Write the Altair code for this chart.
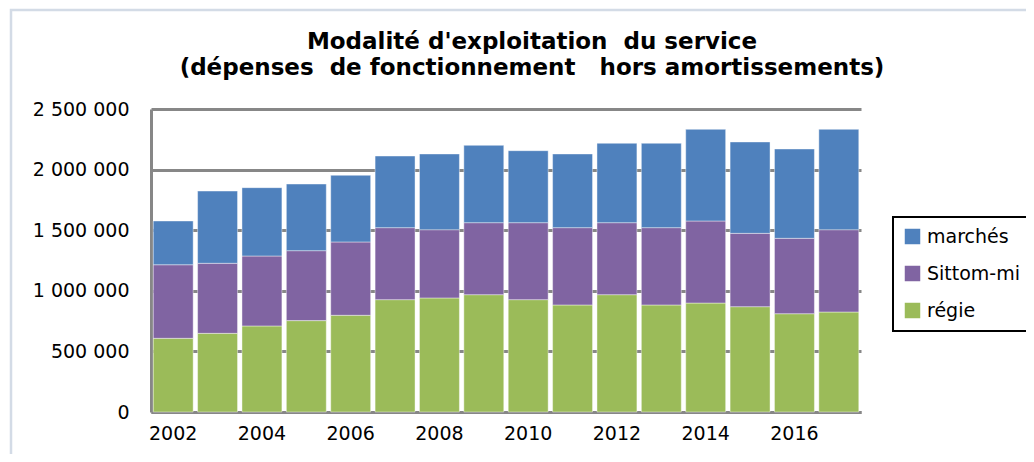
import altair as alt
import pandas as pd

years = list(range(2002, 2018))
regie = [608000, 649000, 710000, 754000, 798000, 927000, 941000, 968000,
         927000, 883000, 968000, 883000, 899000, 869000, 811000, 825000]
sittom = [607000, 578000, 577000, 577000, 605000, 594000, 563000, 594000,
          635000, 638000, 594000, 638000, 677000, 605000, 622000, 679000]
marches = [361000, 596000, 564000, 550000, 550000, 591000, 625000, 638000,
           594000, 608000, 655000, 696000, 756000, 754000, 737000, 828000]

series_names = ["marchés", "Sittom-mi", "régie"]
series_colors = ["#4F81BD", "#8064A2", "#9BBB59"]
stack_order = {"régie": 0, "Sittom-mi": 1, "marchés": 2}

title_lines = ["Modalité d'exploitation \u00a0du service",
               "(dépenses \u00a0de fonctionnement \u00a0\u00a0hors amortissements)"]

rows = []
for i, y in enumerate(years):
    for name, vals in (("régie", regie), ("Sittom-mi", sittom), ("marchés", marches)):
        rows.append({"year": y, "serie": name, "value": vals[i], "ord": stack_order[name]})
df = pd.DataFrame(rows)

FONT = "DejaVu Sans"

bars = alt.Chart(df).mark_bar(stroke="white", strokeWidth=0.6, strokeOpacity=0.7).encode(
    x=alt.X("year:O",
            scale=alt.Scale(paddingInner=0.1, paddingOuter=0.05),
            axis=alt.Axis(title=None, values=[2002, 2004, 2006, 2008, 2010, 2012, 2014, 2016],
                          labelAngle=0, ticks=False, labelPadding=12, labelFontSize=19,
                          labelFont=FONT, labelColor="black", grid=False,
                          domainColor="#878787", domainWidth=3)),
    y=alt.Y("value:Q", stack="zero",
            scale=alt.Scale(domain=[0, 2500000], nice=False),
            axis=alt.Axis(title=None, values=[0, 500000, 1000000, 1500000, 2000000, 2500000],
                          labelExpr="replace(format(datum.value, ',d'), regexp(',', 'g'), ' ')",
                          ticks=False, labelPadding=22, labelFontSize=19, labelFont=FONT,
                          labelColor="black", grid=True, gridColor="#878787", gridWidth=3,
                          domainColor="#878787", domainWidth=3)),
    color=alt.Color("serie:N",
                    scale=alt.Scale(domain=series_names, range=series_colors),
                    legend=alt.Legend(title=None, orient="none", legendX=742, legendY=108,
                                      symbolType="square", symbolSize=240, symbolStrokeWidth=0,
                                      labelFontSize=19, labelFont=FONT, labelColor="black",
                                      labelOffset=5, rowPadding=17, padding=10,
                                      strokeColor="black", fillColor="white")),
    order=alt.Order("ord:Q", sort="ascending"),
)

frame = alt.Chart(alt.Data(values=[{"k": 1}])).mark_rect(
    filled=False, stroke="#D3DBE6", strokeWidth=2.5
).encode(
    x=alt.value(-140), x2=alt.value(900), y=alt.value(-99), y2=alt.value(400)
)

chart = alt.layer(frame, bars).properties(
    width=710,
    height=303,
    autosize=alt.AutoSizeParams(type="none"),
    padding={"left": 143, "top": 101, "right": 165, "bottom": 42},
    title=alt.TitleParams(
        text=title_lines,
        anchor="middle", dx=26, dy=101, offset=30, fontSize=23, font=FONT,
        fontWeight="bold", lineHeight=26, color="black"),
).configure_view(stroke=None).configure_legend(strokeWidth=2)

chart.save("out.html", embed_options={"renderer": "svg", "actions": False})
